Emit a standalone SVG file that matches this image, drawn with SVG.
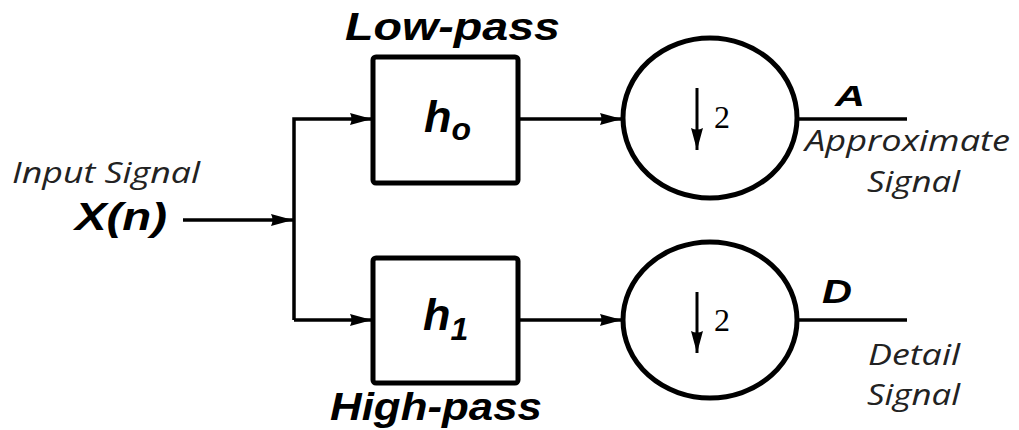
<svg xmlns="http://www.w3.org/2000/svg" width="1019" height="430" viewBox="0 0 1019 430">
<style>
.box{fill:#fff;stroke:#000;stroke-width:5}
.circ{fill:#fff;stroke:#000;stroke-width:5}
.wire{fill:none;stroke:#000;stroke-width:3.5}
.lbl{font-family:"Liberation Sans",Arial,sans-serif;font-weight:bold;font-style:italic;fill:#000}
.sig{font-family:"Open Sans","DejaVu Sans",sans-serif;font-style:italic;fill:#222}
.two{font-family:"Liberation Serif","Times New Roman",serif;font-size:32px;fill:#000}
</style>
<defs>
<marker id="ah" markerWidth="22" markerHeight="14" refX="22" refY="7" orient="auto" markerUnits="userSpaceOnUse">
<path d="M0,1 Q3,7 0,13 L22,7 Z" fill="#000"/>
</marker>
<marker id="dn" markerWidth="14" markerHeight="22" refX="7" refY="22" orient="0" markerUnits="userSpaceOnUse">
<path d="M1,0 Q7,3 13,0 L7,22 Z" fill="#000"/>
</marker>
</defs>
<g id="connectors">
<line class="wire" x1="183" y1="220" x2="293" y2="220" marker-end="url(#ah)"/>
<polyline class="wire" points="294,320 294,119 372,119" marker-end="url(#ah)"/>
<line class="wire" x1="294" y1="320" x2="372" y2="320" marker-end="url(#ah)"/>
<line class="wire" x1="519" y1="119" x2="622" y2="119" marker-end="url(#ah)"/>
<line class="wire" x1="519" y1="320" x2="622" y2="320" marker-end="url(#ah)"/>
<line class="wire" x1="798" y1="119" x2="907" y2="119"/>
<line class="wire" x1="798" y1="320" x2="907" y2="320"/>
</g>
<g id="input">
<text class="sig" x="12" y="183" font-size="29" textLength="188" lengthAdjust="spacingAndGlyphs">Input Signal</text>
<text class="lbl" x="75" y="230" font-size="39" textLength="92" lengthAdjust="spacingAndGlyphs">X(n)</text>
</g>
<g id="lowpass">
<text class="lbl" x="345" y="40" font-size="38" textLength="215" lengthAdjust="spacingAndGlyphs">Low-pass</text>
<rect class="box" x="373" y="57" width="145" height="126" rx="3"/>
<text class="lbl" x="424" y="132" font-size="45">h<tspan font-size="32" dy="8">o</tspan></text>
</g>
<g id="highpass">
<rect class="box" x="373" y="258" width="145" height="125" rx="3"/>
<text class="lbl" x="423" y="330" font-size="45">h<tspan font-size="32" dy="10">1</tspan></text>
<text class="lbl" x="330" y="420" font-size="38" textLength="212" lengthAdjust="spacingAndGlyphs">High-pass</text>
</g>
<g id="down-a">
<ellipse class="circ" cx="710" cy="118" rx="87" ry="80"/>
<line x1="697" y1="88" x2="697" y2="150" stroke="#000" stroke-width="3" marker-end="url(#dn)"/>
<text class="two" x="714" y="128">2</text>
</g>
<g id="down-d">
<ellipse class="circ" cx="710" cy="320" rx="87" ry="78"/>
<line x1="697" y1="292" x2="697" y2="353" stroke="#000" stroke-width="3" marker-end="url(#dn)"/>
<text class="two" x="714" y="331">2</text>
</g>
<g id="out-a">
<text class="lbl" x="835" y="106" font-size="30" textLength="30" lengthAdjust="spacingAndGlyphs">A</text>
<text class="sig" x="805" y="151" font-size="29" textLength="205" lengthAdjust="spacingAndGlyphs">Approximate</text>
<text class="sig" x="867" y="192" font-size="29" textLength="93" lengthAdjust="spacingAndGlyphs">Signal</text>
</g>
<g id="out-d">
<text class="lbl" x="822" y="303" font-size="33" textLength="30" lengthAdjust="spacingAndGlyphs">D</text>
<text class="sig" x="868" y="365" font-size="29" textLength="92" lengthAdjust="spacingAndGlyphs">Detail</text>
<text class="sig" x="867" y="405" font-size="29" textLength="93" lengthAdjust="spacingAndGlyphs">Signal</text>
</g>
</svg>
